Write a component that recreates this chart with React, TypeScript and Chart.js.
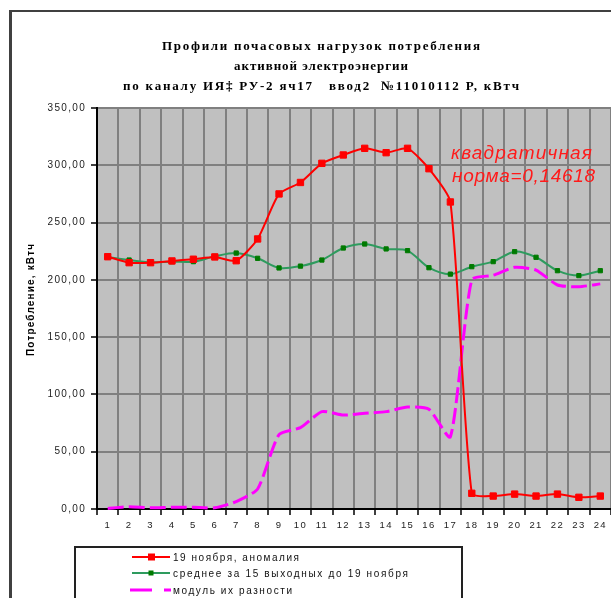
import React, { useEffect, useRef } from 'react';
import { Chart, registerables } from 'chart.js';

Chart.register(...registerables);

const hours = ['1', '2', '3', '4', '5', '6', '7', '8', '9', '10', '11', '12', '13', '14', '15', '16', '17', '18', '19', '20', '21', '22', '23', '24'];
const anomalyValues = [220.2, 215, 215, 216.5, 218, 220, 216.7, 235.7, 275, 285, 301.7, 309, 314.8, 311, 314.8, 297, 268, 13.7, 11.3, 13, 11.3, 13, 10.2, 11.3];
const averageValues = [220, 217.3, 215.3, 215.9, 215.9, 220.5, 223.4, 218.8, 210.4, 212, 217.3, 227.8, 231.3, 227, 225.5, 210.6, 205, 211.5, 215.9, 224.6, 219.7, 208, 203.7, 208];
const differenceValues = [0.5, 2, 1, 1.5, 1.5, 1, 6.5, 17.5, 65, 71, 85, 82, 83.5, 85, 89, 87, 63, 200, 204, 211, 208.5, 195.5, 194, 196.5];
const seriesLabels = ['19 ноября, аномалия', 'среднее за 15 выходных до 19 ноября', 'модуль их разности'];
const titleLines = ['Профили почасовых нагрузок потребления', 'активной электроэнергии', 'по каналу ИЯ‡ РУ-2 яч17   ввод2  №11010112 Р, кВтч'];
const yAxisTitle = 'Потребление, кВтч';
const noteLines = ['квадратичная', 'норма=0,14618'];
const yMin = 0;
const yMax = 350;
const yStep = 50;

const fitText = (ctx: CanvasRenderingContext2D, text: string, x: number, y: number, width: number, align: 'left' | 'center') => {
  (ctx as any).letterSpacing = '0px';
  const natural = ctx.measureText(text).width;
  const count = Array.from(text).length;
  const spacing = count > 1 ? Math.max(0, (width - natural) / (count - 1)) : 0;
  (ctx as any).letterSpacing = `${spacing}px`;
  ctx.textAlign = 'left';
  const start = align === 'center' ? x - width / 2 : x;
  ctx.fillText(text, start, y);
};

const decorPlugin = {
  id: 'decor',
  beforeDraw(chart: any) {
    const { ctx, chartArea } = chart;
    ctx.save();
    ctx.fillStyle = '#ffffff';
    ctx.fillRect(0, 0, chart.width, chart.height);
    ctx.fillStyle = '#404040';
    ctx.fillRect(9, 10, 3, chart.height - 10);
    ctx.fillRect(9, 10, chart.width - 9, 2);
    ctx.fillStyle = '#c0c0c0';
    ctx.fillRect(chartArea.left, chartArea.top, chartArea.right - chartArea.left, chartArea.bottom - chartArea.top);
    ctx.restore();
    (ctx as any).letterSpacing = '1.3px';
  },
  afterDraw(chart: any) {
    const { ctx } = chart;
    ctx.save();
    ctx.textBaseline = 'alphabetic';
    ctx.fillStyle = '#000000';
    ctx.font = 'bold 13px "Liberation Serif"';
    const titleWidths = [318, 174, 396];
    const titleBase = [50, 70, 90];
    titleLines.forEach((line, i) => fitText(ctx, line, 321, titleBase[i], titleWidths[i], 'center'));
    ctx.save();
    ctx.translate(34, 300);
    ctx.rotate(-Math.PI / 2);
    ctx.font = 'bold 10px "Liberation Sans"';
    fitText(ctx, yAxisTitle, 0, 0, 112, 'center');
    ctx.restore();
    ctx.fillStyle = '#ff1a1a';
    ctx.font = 'italic 19px "Liberation Sans"';
    fitText(ctx, noteLines[0], 451, 159, 141, 'left');
    fitText(ctx, noteLines[1], 452, 182, 143, 'left');
    ctx.fillStyle = '#ffffff';
    ctx.fillRect(75, 547, 387, 60);
    ctx.strokeStyle = '#222222';
    ctx.lineWidth = 2;
    ctx.strokeRect(75, 547, 387, 60);
    const rowsY = [557, 573, 590];
    const ds = chart.data.datasets;
    ctx.strokeStyle = ds[0].borderColor;
    ctx.lineWidth = 2;
    ctx.beginPath(); ctx.moveTo(132, rowsY[0]); ctx.lineTo(170, rowsY[0]); ctx.stroke();
    ctx.fillStyle = ds[0].backgroundColor;
    ctx.fillRect(148, rowsY[0] - 3.5, 7, 7);
    ctx.strokeStyle = ds[1].borderColor;
    ctx.beginPath(); ctx.moveTo(132, rowsY[1]); ctx.lineTo(170, rowsY[1]); ctx.stroke();
    ctx.fillStyle = ds[1].backgroundColor;
    ctx.fillRect(148.5, rowsY[1] - 2.5, 5, 5);
    ctx.strokeStyle = ds[2].borderColor;
    ctx.lineWidth = 3;
    ctx.setLineDash([22, 12]);
    ctx.beginPath(); ctx.moveTo(130, rowsY[2]); ctx.lineTo(171, rowsY[2]); ctx.stroke();
    ctx.setLineDash([]);
    ctx.fillStyle = '#111111';
    ctx.font = '10px "Liberation Sans"';
    const legendWidths = [126, 235, 119];
    seriesLabels.forEach((lbl, i) => fitText(ctx, lbl, 173, rowsY[i] + 4, legendWidths[i], 'left'));
    ctx.restore();
  },
};

export default function App() {
  const canvasRef = useRef<HTMLCanvasElement | null>(null);

  useEffect(() => {
    if (!canvasRef.current) return;
    const gridColor = '#808080';
    const chart = new Chart(canvasRef.current, {
      type: 'line',
      data: {
        labels: hours,
        datasets: [
          {
            label: seriesLabels[0],
            data: anomalyValues,
            borderColor: '#ff0000',
            backgroundColor: '#ff0000',
            borderWidth: 2,
            pointStyle: 'rect',
            pointRadius: 4.5,
            pointBorderWidth: 1,
            pointBorderColor: '#ff0000',
            pointBackgroundColor: '#ff0000',
            tension: 0.2,
            clip: 6,
          },
          {
            label: seriesLabels[1],
            data: averageValues,
            borderColor: '#2e9b5e',
            backgroundColor: '#007a00',
            borderWidth: 2,
            pointStyle: 'rect',
            pointRadius: 3,
            pointBorderWidth: 1,
            pointBorderColor: '#007a00',
            pointBackgroundColor: '#007a00',
            tension: 0.3,
            clip: 6,
          },
          {
            label: seriesLabels[2],
            data: differenceValues,
            borderColor: '#ff00ff',
            backgroundColor: '#ff00ff',
            borderWidth: 3,
            borderDash: [16, 5],
            pointRadius: 0,
            tension: 0.2,
            clip: 6,
          },
        ],
      },
      options: {
        animation: false,
        responsive: false,
        events: [],
        layout: { autoPadding: false, padding: { top: 108, left: 0, right: 0, bottom: 0 } },
        plugins: {
          legend: { display: false },
          title: { display: false },
          tooltip: { enabled: false },
        },
        scales: {
          x: {
            type: 'category',
            offset: true,
            grid: { offset: true, color: gridColor, lineWidth: 2, drawTicks: true, tickLength: 6, tickColor: '#000000', tickWidth: 1.5 },
            border: { display: true, color: '#000000', width: 2 },
            ticks: { font: { family: 'Liberation Sans', size: 9.5 }, color: '#222222', padding: 5, autoSkip: false, maxRotation: 0 },
            afterFit: (scale: any) => { scale.height = 89; scale.paddingLeft = 0; scale.paddingRight = 0; },
          },
          y: {
            min: yMin,
            max: yMax,
            grid: { color: gridColor, lineWidth: 2, drawTicks: true, tickLength: 6, tickColor: '#000000', tickWidth: 1.5 },
            border: { display: true, color: '#000000', width: 2 },
            ticks: {
              stepSize: yStep,
              font: { family: 'Liberation Sans', size: 10 },
              color: '#222222',
              padding: 5,
              callback: (v: any) => Number(v).toFixed(2).replace('.', ','),
            },
            afterFit: (scale: any) => { scale.width = 97; scale.paddingTop = 0; scale.paddingBottom = 0; },
          },
        },
      },
      plugins: [decorPlugin],
    } as any);
    return () => chart.destroy();
  }, []);

  return (
    <div style={{ position: 'fixed', left: 0, top: 0, width: 611, height: 598, overflow: 'hidden', background: '#ffffff' }}>
      <canvas ref={canvasRef} width={611} height={598} style={{ display: 'block' }} />
    </div>
  );
}
